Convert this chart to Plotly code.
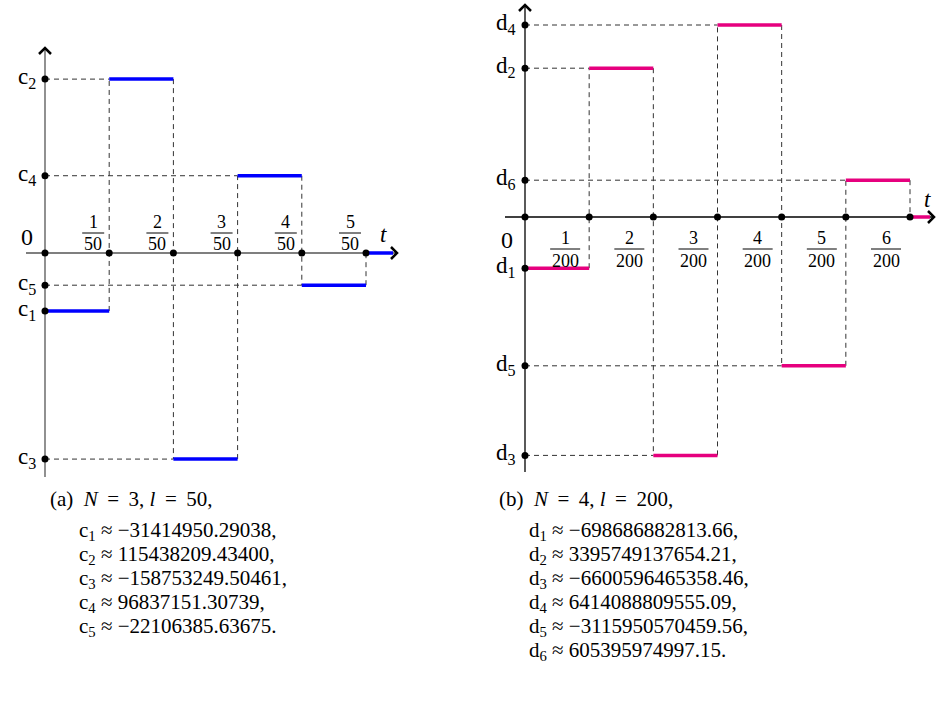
import plotly.graph_objects as go

W, H = 936, 720

# ---------------- data ----------------
# panel (a)
a_ticks = [1, 2, 3, 4, 5]            # k/50
a_den = 50
a_names = ["c<sub>1</sub>", "c<sub>2</sub>", "c<sub>3</sub>", "c<sub>4</sub>", "c<sub>5</sub>"]
a_levels = [-1.8, 5.4, -6.4, 2.4, -1.0]          # schematic drawn heights
a_values = ["−31414950.29038", "115438209.43400", "−158753249.50461",
            "96837151.30739", "−22106385.63675"]
# panel (b)
b_ticks = [1, 2, 3, 4, 5, 6]         # k/200
b_den = 200
b_names = ["d<sub>1</sub>", "d<sub>2</sub>", "d<sub>3</sub>", "d<sub>4</sub>", "d<sub>5</sub>", "d<sub>6</sub>"]
b_levels = [-1.6, 4.65, -7.45, 6.0, -4.65, 1.15]  # schematic drawn heights
b_values = ["−698686882813.66", "3395749137654.21", "−6600596465358.46",
            "6414088809555.09", "−3115950570459.56", "605395974997.15"]

FONT = "Liberation Serif"
BLUE = "#0000ff"
PINK = "#e6007e"

fig = go.Figure()

SPLIT = 468

panels = {
    "a": dict(xa="x", ya="y", dom=[0, SPLIT / W], x0px=45, xendpx=366, yzero=253, yscale=32.2,
              ax_col="#555555", col=BLUE, ticks=a_ticks, den=a_den, names=a_names,
              levels=a_levels, ybot=477, ytop=48, xleft=26, xright=397,
              frac_side="above"),
    "b": dict(xa="x2", ya="y2", dom=[SPLIT / W, 1], x0px=525, xendpx=910, yzero=217, yscale=32.0,
              ax_col="#000000", col=PINK, ticks=b_ticks, den=b_den, names=b_names,
              levels=b_levels, ybot=472, ytop=5, xleft=505, xright=934,
              frac_side="below"),
}

layout_axes = {}
shapes = []
annotations = []

for key, p in panels.items():
    n = len(p["ticks"])
    tmax = p["ticks"][-1] / p["den"]
    xs = (p["xendpx"] - p["x0px"]) / tmax  # px per unit t
    domL, domR = p["dom"][0] * W, p["dom"][1] * W
    xr = [(domL - p["x0px"]) / xs, (domR - p["x0px"]) / xs]
    ys = p["yscale"]
    yr = [(p["yzero"] - H) / ys, p["yzero"] / ys]
    axname_x = "xaxis" if p["xa"] == "x" else "xaxis2"
    axname_y = "yaxis" if p["ya"] == "y" else "yaxis2"
    layout_axes[axname_x] = dict(domain=p["dom"], range=xr, visible=False, fixedrange=True,
                                 anchor=p["ya"])
    layout_axes[axname_y] = dict(domain=[0, 1], range=yr, visible=False, fixedrange=True,
                                 anchor=p["xa"])

    px2x = lambda d, xs=xs: d / xs
    px2y = lambda d, ys=ys: d / ys

    tvals = [k / p["den"] for k in p["ticks"]]
    edges = [0.0] + tvals
    lv = p["levels"]
    xa, ya = p["xa"], p["ya"]

    yb = (p["yzero"] - p["ybot"]) / ys
    yt = (p["yzero"] - p["ytop"]) / ys
    xl = (p["xleft"] - p["x0px"]) / xs
    xrgt = (p["xright"] - p["x0px"]) / xs

    # dashed guides
    dash_x, dash_y = [], []
    for i in range(1, n):
        dash_x += [0, edges[i], None]
        dash_y += [lv[i], lv[i], None]
    for i in range(1, n):
        dash_x += [edges[i], edges[i], None]
        dash_y += [lv[i - 1], lv[i], None]
    dash_x += [edges[n], edges[n], None]
    dash_y += [lv[n - 1], 0, None]
    fig.add_trace(go.Scatter(x=dash_x, y=dash_y, mode="lines", xaxis=xa, yaxis=ya,
                             line=dict(color="#333333", width=1, dash="5px,4px"),
                             hoverinfo="skip", showlegend=False, cliponaxis=False))

    # axes lines
    fig.add_trace(go.Scatter(x=[0, 0], y=[yb, yt], mode="lines", xaxis=xa, yaxis=ya,
                             line=dict(color=p["ax_col"], width=1.3), hoverinfo="skip",
                             showlegend=False, cliponaxis=False))
    fig.add_trace(go.Scatter(x=[xl, xrgt], y=[0, 0], mode="lines", xaxis=xa, yaxis=ya,
                             line=dict(color=p["ax_col"], width=1.3), hoverinfo="skip",
                             showlegend=False, cliponaxis=False))

    # step segments
    sx, sy = [], []
    for i in range(n):
        sx += [edges[i], edges[i + 1], None]
        sy += [lv[i], lv[i], None]
    sx += [edges[n], xrgt - px2x(4), None]
    sy += [0, 0, None]
    fig.add_trace(go.Scatter(x=sx, y=sy, mode="lines", xaxis=xa, yaxis=ya,
                             line=dict(color=p["col"], width=3.5), hoverinfo="skip",
                             showlegend=False, cliponaxis=False))

    # arrow heads (chevrons)
    fig.add_trace(go.Scatter(x=[px2x(-6), 0, px2x(6)], y=[yt - px2y(6), yt, yt - px2y(6)],
                             mode="lines", xaxis=xa, yaxis=ya,
                             line=dict(color="black", width=2.5), hoverinfo="skip",
                             showlegend=False, cliponaxis=False))
    fig.add_trace(go.Scatter(x=[xrgt - px2x(6), xrgt, xrgt - px2x(6)], y=[px2y(6), 0, -px2y(6)],
                             mode="lines", xaxis=xa, yaxis=ya,
                             line=dict(color="black", width=2.5), hoverinfo="skip",
                             showlegend=False, cliponaxis=False))

    # dots
    fig.add_trace(go.Scatter(x=[0] * n + edges, y=lv + [0] * len(edges), mode="markers",
                             xaxis=xa, yaxis=ya, marker=dict(color="black", size=7),
                             hoverinfo="skip", showlegend=False, cliponaxis=False))

    # level labels
    for name, v in zip(p["names"], lv):
        annotations.append(dict(x=0, y=v, xref=xa, yref=ya, text=name, showarrow=False,
                                xanchor="right", yanchor="middle", xshift=-7, yshift=1,
                                font=dict(family=FONT, size=23, color="black")))
    if p["frac_side"] == "above":
        z_sh, t_sh = 16, 19
        num_sh, den_sh, bar_sh, fx = 31, 9, 20, -16
        bw = 11
    else:
        z_sh, t_sh = -23, 18
        num_sh, den_sh, bar_sh, fx = -21, -44, -32, -24
        bw = 15
    annotations.append(dict(x=0, y=0, xref=xa, yref=ya, text="0", showarrow=False,
                            xanchor="center", yanchor="middle", xshift=-18, yshift=z_sh,
                            font=dict(family=FONT, size=24, color="black")))
    annotations.append(dict(x=edges[n], y=0, xref=xa, yref=ya, text="<i>t</i>", showarrow=False,
                            xanchor="center", yanchor="middle", xshift=17, yshift=t_sh,
                            font=dict(family=FONT, size=23, color="black")))
    for k, tv in zip(p["ticks"], tvals):
        annotations.append(dict(x=tv, y=0, xref=xa, yref=ya, text=str(k), showarrow=False,
                                xanchor="center", yanchor="middle", xshift=fx, yshift=num_sh,
                                font=dict(family=FONT, size=18, color="black")))
        annotations.append(dict(x=tv, y=0, xref=xa, yref=ya, text=str(p["den"]), showarrow=False,
                                xanchor="center", yanchor="middle", xshift=fx, yshift=den_sh,
                                font=dict(family=FONT, size=18, color="black")))
        shapes.append(dict(type="line", xref=xa, yref=ya, xsizemode="pixel", ysizemode="pixel",
                           xanchor=tv, yanchor=0, x0=fx - bw, x1=fx + bw, y0=bar_sh, y1=bar_sh,
                           line=dict(color="black", width=1)))

# ---------- captions ----------
def cap(x, y, text):
    annotations.append(dict(x=x / W, y=1 - y / H, xref="paper", yref="paper",
                            text=text, showarrow=False, xanchor="left", yanchor="middle",
                            font=dict(family=FONT, size=21, color="black")))

TS = "&#8201;"  # thin space (math relation spacing)
cap(48, 499, f"(a)&nbsp; <i>N</i> {TS}={TS} 3, <i>l</i> {TS}={TS} 50,")
for i, (nm, val) in enumerate(zip(a_names, a_values)):
    end = "." if i == len(a_values) - 1 else ","
    cap(77, 531 + 24 * i, f"{nm} ≈ {val}{end}")

cap(497, 499, f"(b)&nbsp; <i>N</i> {TS}={TS} 4, <i>l</i> {TS}={TS} 200,")
for i, (nm, val) in enumerate(zip(b_names, b_values)):
    end = "." if i == len(b_values) - 1 else ","
    cap(527, 531 + 24 * i, f"{nm} ≈ {val}{end}")

fig.update_layout(width=W, height=H, autosize=False,
                  margin=dict(l=0, r=0, t=0, b=0, pad=0),
                  paper_bgcolor="white", plot_bgcolor="rgba(0,0,0,0)",
                  showlegend=False, shapes=shapes, annotations=annotations,
                  **layout_axes)

fig.write_html("out.html", config={"displayModeBar": False, "staticPlot": True},
               post_script="document.body.style.margin='0px';document.body.style.overflow='hidden';")
